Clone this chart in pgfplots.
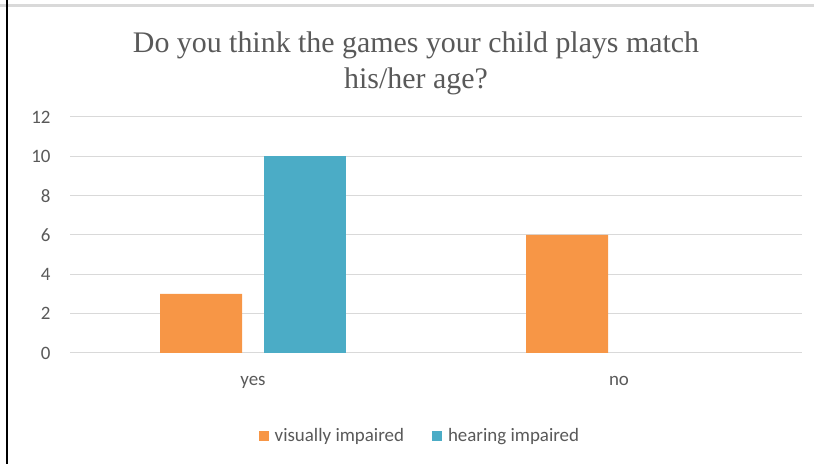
\documentclass[border=0pt]{standalone}
\usepackage{fontspec}
\setmainfont{Carlito}
\newfontfamily\titlefont{Liberation Serif}
\usepackage{pgfplots}
\pgfplotsset{compat=1.18}
\definecolor{vis}{RGB}{247,150,70}
\definecolor{hear}{RGB}{75,172,198}
\definecolor{txt}{RGB}{89,89,89}
\definecolor{gridc}{RGB}{217,217,217}
\begin{document}
\begin{tikzpicture}[x=1bp,y=1bp]
\path[use as bounding box] (0,0) rectangle (814,464);
\draw[gridc, line width=2.5bp] (0,458.5) -- (814,458.5);
\draw[black, line width=1.5bp] (7,0) -- (7,464);
\node[font=\titlefont\fontsize{30}{36}\selectfont, text=txt, align=center]
  at (416,401) {Do you think the games your child plays match\\his/her age?};
\begin{axis}[
  at={(70bp,111bp)}, anchor=south west,
  scale only axis, width=732bp, height=236bp,
  xmin=-0.5, xmax=1.5, ymin=0, ymax=12,
  xtick={0,1}, xticklabels={yes,no},
  ytick={0,2,...,12},
  /pgf/number format/assume math mode=true,
  axis line style={draw=none},
  major tick length=0pt,
  ymajorgrids, grid style={gridc, line width=1bp},
  ticklabel style={font=\fontsize{19}{21}\selectfont, text=txt},
  yticklabel style={xshift=-16bp},
  xticklabel style={yshift=-20bp},
  ybar, bar width=0.224,
  legend style={at={(0.478,-0.352)}, anchor=center, draw=none,
    font=\fontsize{19}{21}\selectfont, text=txt,
    legend columns=2, column sep=26bp,
    /tikz/every odd column/.append style={column sep=4bp}},
  legend image code/.code={\fill[#1] (0bp,-5bp) rectangle (10bp,5bp);},
]
\addplot[fill=vis, draw=none, bar shift=-0.142] coordinates {(0,3) (1,6)};
\addplot[fill=hear, draw=none, bar shift=0.141] coordinates {(0,10)};
\legend{visually impaired, hearing impaired}
\end{axis}
\end{tikzpicture}
\end{document}
